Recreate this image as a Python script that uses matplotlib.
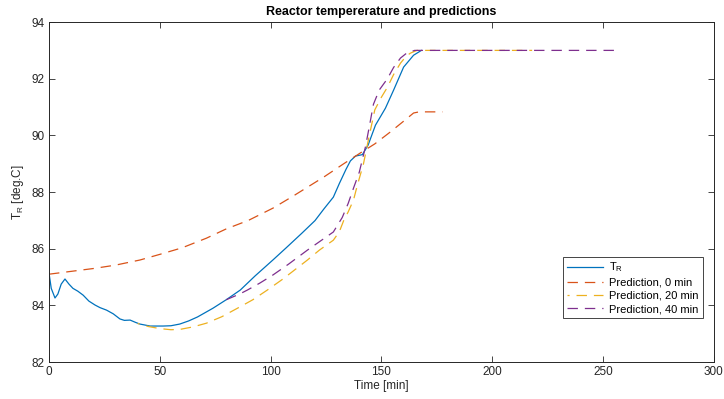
import matplotlib
matplotlib.use("Agg")
import matplotlib.pyplot as plt

plt.rcParams['font.family'] = ['Liberation Sans', 'DejaVu Sans']
plt.rcParams['mathtext.default'] = 'regular'
plt.rcParams['lines.scale_dashes'] = False

# Measured temperature T_R
t_meas = [0, 1, 2.7, 4, 5.5, 7.2, 9, 10.8, 13, 15.4, 18, 20.8, 23, 26, 29, 32, 34,
          36.6, 39, 41, 45.6, 51.5, 55, 59, 63, 67, 74, 80, 86.3, 93, 101, 107,
          114, 120, 124, 128.3, 131, 134, 136, 138.3, 141.4, 144, 147.3, 151.8,
          155.5, 160, 164.5, 166.8, 168]
T_meas = [85.14, 84.6, 84.26, 84.4, 84.75, 84.93, 84.75, 84.6, 84.5, 84.36, 84.15,
          84.01, 83.92, 83.83, 83.7, 83.52, 83.47, 83.48, 83.4, 83.34, 83.27, 83.27,
          83.28, 83.34, 83.45, 83.59, 83.9, 84.2, 84.54, 85.04, 85.6, 86.03, 86.54,
          86.99, 87.4, 87.82, 88.3, 88.8, 89.1, 89.27, 89.32, 89.66, 90.36, 90.96,
          91.6, 92.41, 92.83, 92.94, 93.0]

# Prediction, 0 min
t_p0 = [0, 10, 20, 30, 41, 50, 60, 71, 80, 90, 101, 110, 124, 133, 140.5, 147,
        154, 160, 164.5, 167, 177.6]
T_p0 = [85.1, 85.2, 85.3, 85.42, 85.6, 85.8, 86.03, 86.37, 86.7, 87.0, 87.43, 87.85,
        88.53, 89.0, 89.38, 89.7, 90.12, 90.5, 90.79, 90.83, 90.83]

# Prediction, 20 min
t_p20 = [40, 45, 50, 55, 59, 65, 71, 78, 86, 92, 98.5, 105, 110, 116.6, 122, 128.3,
         131, 133, 135, 137.4, 139, 141.9, 144, 147, 150, 152.7, 155.5, 158.6, 161,
         163, 166, 218]
T_p20 = [83.36, 83.25, 83.18, 83.14, 83.15, 83.24, 83.37, 83.6, 83.94, 84.2, 84.54,
         84.9, 85.2, 85.6, 85.95, 86.3, 86.6, 87.0, 87.3, 87.72, 88.2, 89.0, 89.8,
         90.9, 91.35, 91.7, 92.15, 92.55, 92.78, 92.9, 93.0, 93.0]

# Prediction, 40 min
t_p40 = [80, 86, 89.5, 95, 101, 108, 116.6, 123, 128.3, 132.3, 135, 137.4, 140,
         142.8, 144.5, 146.4, 149, 152.7, 155.5, 158.6, 161, 163, 165, 258]
T_p40 = [84.2, 84.4, 84.54, 84.78, 85.07, 85.45, 85.95, 86.3, 86.59, 87.1, 87.6,
         88.14, 88.7, 89.6, 90.3, 91.1, 91.6, 92.0, 92.4, 92.73, 92.88, 92.95, 93.0,
         93.0]

x_ticks = [0, 50, 100, 150, 200, 250, 300]
y_ticks = [82, 84, 86, 88, 90, 92, 94]

fig = plt.figure(figsize=(7.24, 3.99), dpi=100)
ax = fig.add_axes([0.0677, 0.0927, 0.9183, 0.852])

lw = 0.9
ax.plot(t_meas, T_meas, color='#0072BD', lw=lw, label='T$_R$')
ax.plot(t_p0, T_p0, color='#D95319', lw=lw, linestyle=(0, (7.5, 5)),
        label='Prediction, 0 min')
ax.plot(t_p20, T_p20, color='#EDB120', lw=lw, linestyle=(6, (7.5, 5)),
        label='Prediction, 20 min')
ax.plot(t_p40, T_p40, color='#7E2F8E', lw=lw, linestyle=(0, (7.5, 5)),
        label='Prediction, 40 min')

ax.set_xlim(0, 300)
ax.set_ylim(82, 94)
ax.set_xticks(x_ticks)
ax.set_yticks(y_ticks)
ax.tick_params(direction='in', top=True, right=True, length=4, width=0.6,
               labelsize=8.5, colors='#262626', pad=3)
for s in ax.spines.values():
    s.set_color('#262626')
    s.set_linewidth(0.7)

ax.set_title('Reactor tempererature and predictions', fontsize=9, fontweight='bold',
             color='black', pad=5)
ax.set_xlabel('Time [min]', fontsize=8.5, color='#262626', labelpad=1)
ax.set_ylabel('T$_R$ [deg.C]', fontsize=8.5, color='#262626', labelpad=4)

leg = ax.legend(loc='lower right', bbox_to_anchor=(0.983, 0.129), fontsize=8,
                frameon=True, fancybox=False, edgecolor='#262626', framealpha=1,
                handlelength=3.2, borderpad=0.35, labelspacing=0.3, handletextpad=0.6,
                borderaxespad=0)
leg.get_frame().set_linewidth(0.6)

fig.savefig('out.png', dpi=100)
